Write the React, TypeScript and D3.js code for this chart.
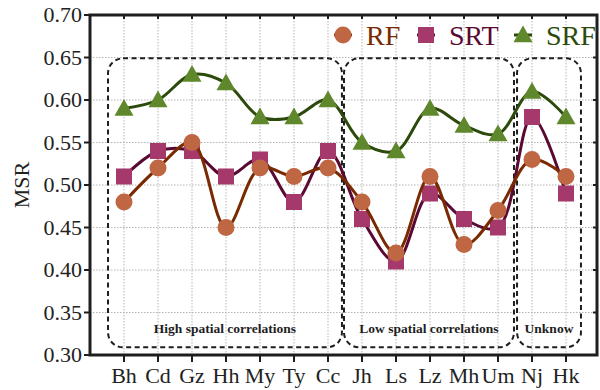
import * as d3 from 'd3'
import * as React from 'react'

// Sites on the x axis
const categories: string[] = ['Bh', 'Cd', 'Gz', 'Hh', 'My', 'Ty', 'Cc', 'Jh', 'Ls', 'Lz', 'Mh', 'Um', 'Nj', 'Hk']

// MSR per method
const rfValues: number[] = [0.48, 0.52, 0.55, 0.45, 0.52, 0.51, 0.52, 0.48, 0.42, 0.51, 0.43, 0.47, 0.53, 0.51]
const srtValues: number[] = [0.51, 0.54, 0.54, 0.51, 0.53, 0.48, 0.54, 0.46, 0.41, 0.49, 0.46, 0.45, 0.58, 0.49]
const srfValues: number[] = [0.59, 0.60, 0.63, 0.62, 0.58, 0.58, 0.60, 0.55, 0.54, 0.59, 0.57, 0.56, 0.61, 0.58]

const yTicks: number[] = [0.30, 0.35, 0.40, 0.45, 0.50, 0.55, 0.60, 0.65, 0.70]

// Group boxes: first and last site of each group
const groupNames: string[] = ['High spatial correlations', 'Low spatial correlations', 'Unknow']
const groupFirst: string[] = ['Bh', 'Jh', 'Nj']
const groupLast: string[] = ['Cc', 'Um', 'Hk']

type Series = {
  name: string,
  values: number[],
  line: string,
  fill: string,
  shape: 'circle' | 'square' | 'triangle'
}

const series: Series[] = [
  { name: 'SRF', values: srfValues, line: '#2c4a0b', fill: '#5f882c', shape: 'triangle' },
  { name: 'SRT', values: srtValues, line: '#5a0a32', fill: '#a6396b', shape: 'square' },
  { name: 'RF', values: rfValues, line: '#7a2a02', fill: '#bf6643', shape: 'circle' },
]
const legendOrder = ['RF', 'SRT', 'SRF']

const W = 600
const H = 390
const left = 90
const right = 597
const top = 15
const bottom = 355
const font = 'Liberation Serif'

function marker(shape: string, x: number, y: number, fill: string, key: string) {
  if (shape === 'circle') return <circle key={key} cx={x} cy={y} r={8.5} fill={fill} />
  if (shape === 'square') return <rect key={key} x={x - 8} y={y - 8} width={16} height={16} fill={fill} />
  const s = 9.5
  return <path key={key} d={`M${x},${y - s}L${x + s},${y + s * 0.75}L${x - s},${y + s * 0.75}Z`} fill={fill} />
}

export default function App() {
  const x = d3.scalePoint<string>().domain(categories).range([left, 600]).padding(1)
  const y = d3.scaleLinear().domain([0.3, 0.7]).range([bottom, top])
  const step = x.step()

  const line = d3.line<number>()
    .x((_, i) => x(categories[i])!)
    .y(d => y(d))
    .curve(d3.curveCatmullRom.alpha(0.5))

  const boxTop = y(0.649)
  const boxBottom = y(0.309)
  const boxPad = [[0.47, 0.41], [0.53, 0.47], [0.44, 0.44]]

  return (
    <svg width={W} height={H} style={{ position: 'absolute', left: 0, top: 0, background: '#fff', fontFamily: font }}>
      {/* grid */}
      <g stroke="#b5b5b5" strokeWidth={1} strokeDasharray="1.5,1.5">
        {yTicks.slice(1, -1).map(t => <line key={'gy' + t} x1={left} x2={right} y1={y(t)} y2={y(t)} />)}
        {categories.map(c => <line key={'gx' + c} x1={x(c)} x2={x(c)} y1={top} y2={bottom} />)}
      </g>

      {/* group boxes */}
      {groupNames.map((g, i) => {
        const x0 = x(groupFirst[i])! - boxPad[i][0] * step
        const x1 = x(groupLast[i])! + boxPad[i][1] * step
        return (
          <g key={g}>
            <rect x={x0} y={boxTop} width={x1 - x0} height={boxBottom - boxTop} rx={15} ry={15}
              fill="none" stroke="#1e1e1e" strokeWidth={2} strokeDasharray="5,3.5" />
            <text x={(x0 + x1) / 2} y={boxBottom - 14} textAnchor="middle"
              fontWeight="bold" fontSize={13.5} fill="#1e1e1e">{g}</text>
          </g>
        )
      })}

      {/* series */}
      {series.map(s => (
        <g key={s.name}>
          <path d={line(s.values)!} fill="none" stroke={s.line} strokeWidth={3} />
          {s.values.map((v, i) => marker(s.shape, x(categories[i])!, y(v), s.fill, s.name + i))}
        </g>
      ))}

      {/* axes frame */}
      <rect x={left} y={top} width={right - left} height={bottom - top} fill="none" stroke="#1e1e1e" strokeWidth={3} />
      <g stroke="#1e1e1e" strokeWidth={2}>
        {yTicks.map(t => <line key={'ly' + t} x1={left - 6} x2={left} y1={y(t)} y2={y(t)} />)}
        {yTicks.map(t => <line key={'ry' + t} x1={right - 4} x2={right} y1={y(t)} y2={y(t)} />)}
        {categories.map(c => <line key={'bx' + c} x1={x(c)} x2={x(c)} y1={bottom} y2={bottom + 7} />)}
        {categories.map(c => <line key={'tx' + c} x1={x(c)} x2={x(c)} y1={top} y2={top + 4} />)}
      </g>
      <g fontSize={22} fill="#222">
        {yTicks.map(t => (
          <text key={'yl' + t} x={left - 8} y={y(t)} dy="0.33em" textAnchor="end">{d3.format('.2f')(t)}</text>
        ))}
        {categories.map(c => (
          <text key={'xl' + c} x={x(c)} y={383} textAnchor="middle">{c}</text>
        ))}
        <text transform={`translate(29,${(top + bottom) / 2}) rotate(-90)`} textAnchor="middle">MSR</text>
      </g>

      {/* legend */}
      {legendOrder.map((name, i) => {
        const s = series.find(d => d.name === name)!
        const mx = [343, 426, 523][i]
        return (
          <g key={'lg' + name}>
            <line x1={mx - 9} x2={mx + 9} y1={35} y2={35} stroke={s.line} strokeWidth={3} />
            {marker(s.shape, mx, 35, s.fill, 'lm' + name)}
            <text x={mx + 23} y={45} fontSize={28} fill={s.line}>{name}</text>
          </g>
        )
      })}
    </svg>
  )
}
